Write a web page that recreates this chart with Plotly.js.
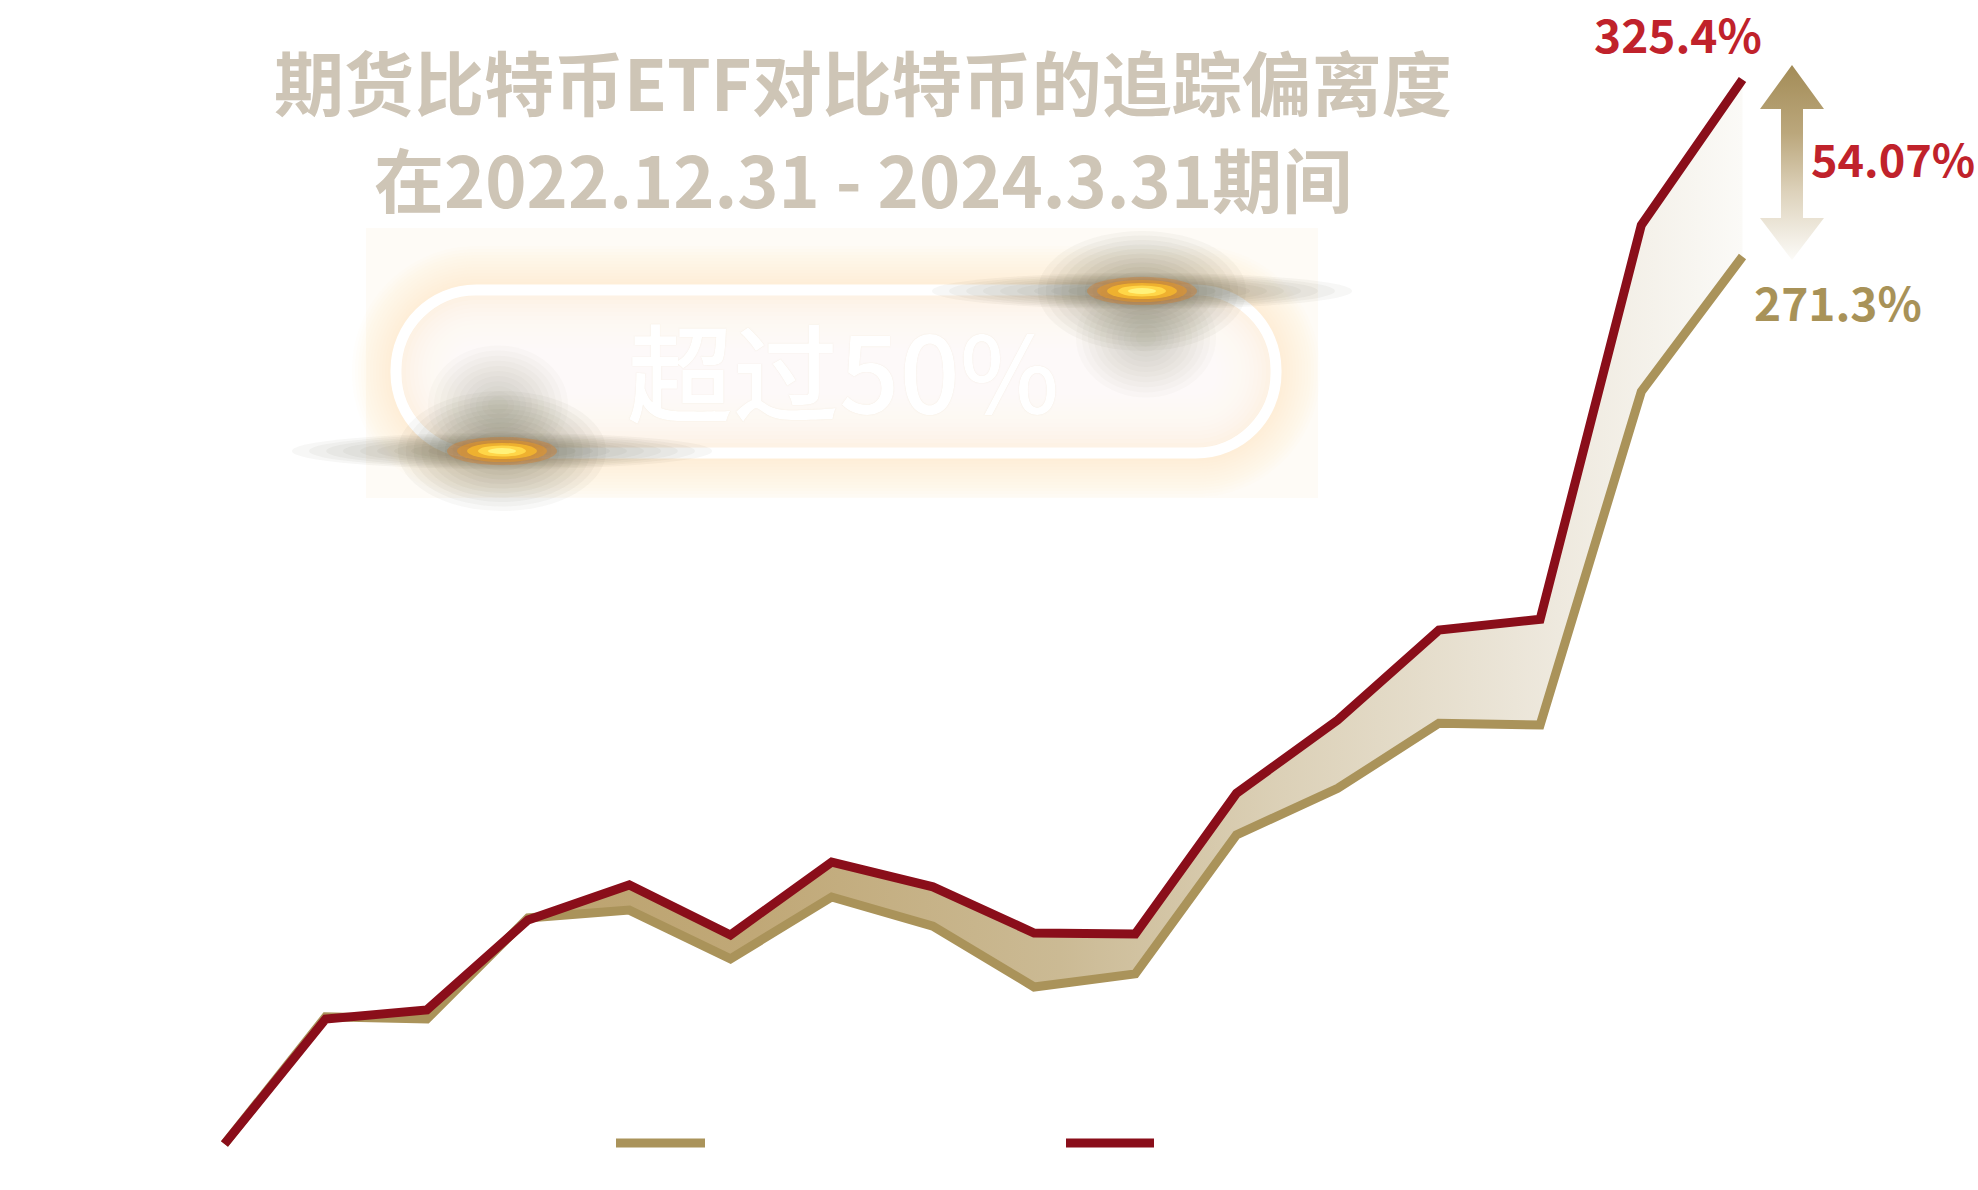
<!DOCTYPE html>
<html>
<head>
<meta charset="utf-8">
<script src="https://cdn.plot.ly/plotly-3.0.1.min.js"></script>
<style>html,body{margin:0;padding:0;background:#fff;}#chart{width:1978px;height:1190px;}</style>
</head>
<body>
<div id="chart"></div>
<script>
// ---- data ----
const months = ['2022-12','2023-01','2023-02','2023-03','2023-04','2023-05','2023-06','2023-07','2023-08','2023-09','2023-10','2023-11','2023-12','2024-01','2024-02','2024-03'];
const futuresEtf = [0, 38.9, 38.2, 69.1, 71.5, 56.6, 75.5, 66.6, 48.0, 52.0, 94.5, 108.7, 128.6, 128.1, 230.0, 271.3];
const bitcoin    = [0, 38.2, 41.0, 68.5, 79.2, 63.9, 86.2, 78.6, 64.5, 64.2, 107.2, 129.6, 157.1, 160.4, 280.9, 325.4];
const seriesNames = ['比特币期货ETF', '比特币'];
const titleLines = ['期货比特币ETF对比特币的追踪偏离度', '在2022.12.31 - 2024.3.31期间'];
const badgeText = '超过50%';
const endLabels = ['325.4%', '54.07%', '271.3%'];

const W = 1978, H = 1190;
const GOLD = '#aa935a', RED = '#8a0e1a', LABEL_RED = '#c0222b', TITLE = '#cec5b6';

// fill polygon between the two series
const polyX = months.concat(months.slice().reverse());
const polyY = futuresEtf.concat(bitcoin.slice().reverse());

const traces = [
  {x: polyX, y: polyY, type: 'scatter', mode: 'none', fill: 'toself', showlegend: false, hoverinfo: 'skip',
   fillgradient: {type: 'horizontal', colorscale: [[0, '#b79d66'], [0.35, '#c0a877'], [0.55, '#cbba94'], [0.7, '#dcd1b8'], [0.85, '#ebe5d8'], [1, '#fbfaf7']]}},
  {x: months, y: futuresEtf, name: seriesNames[0], type: 'scatter', mode: 'lines', line: {color: GOLD, width: 9}, showlegend: false},
  {x: months, y: bitcoin, name: seriesNames[1], type: 'scatter', mode: 'lines', line: {color: RED, width: 9}, showlegend: false},
];

// ---- decorations in pixel space (x2 / y2) ----
function pill(x0, y0, x1, y1, r) {
  const k = 0.5523 * r;
  return `M${x0+r},${y0} L${x1-r},${y0} C${x1-r+k},${y0} ${x1},${y0+r-k} ${x1},${y0+r} L${x1},${y1-r} C${x1},${y1-r+k} ${x1-r+k},${y1} ${x1-r},${y1} L${x0+r},${y1} C${x0+r-k},${y1} ${x0},${y1-r+k} ${x0},${y1-r} L${x0},${y0+r} C${x0},${y0+r-k} ${x0+r-k},${y0} ${x0+r},${y0} Z`;
}
const P = {x0: 396, y0: 290, x1: 1276, y1: 453, r: 80};
function inset(d, op, col) {
  return {type: 'path', xref: 'x2', yref: 'y2', layer: 'below', line: {width: 0},
    fillcolor: col, opacity: op, path: pill(P.x0 - d, P.y0 - d, P.x1 + d, P.y1 + d, Math.max(10, P.r + d))};
}
const shapes = [
  {type: 'rect', xref: 'x2', yref: 'y2', x0: 366, x1: 1318, y0: 228, y1: 498, layer: 'below', line: {width: 0}, fillcolor: 'rgba(254,248,240,0.6)'},
];
for (let d = 44; d >= 2; d -= 3) shapes.push(inset(d, 0.05, '#fbe6cc'));
shapes.push(inset(0, 1, '#fdf1e2'));
for (let d = -6; d >= -66; d -= 4) shapes.push(inset(d, 0.13, '#ffffff'));
shapes.push({type: 'path', xref: 'x2', yref: 'y2', layer: 'below', line: {color: '#ffffff', width: 11}, fillcolor: 'rgba(0,0,0,0)', path: pill(P.x0, P.y0, P.x1, P.y1, P.r)});
// legend swatches
shapes.push({type: 'line', xref: 'x2', yref: 'y2', x0: 616, x1: 705, y0: 1143, y1: 1143, line: {color: GOLD, width: 9}});
shapes.push({type: 'line', xref: 'x2', yref: 'y2', x0: 1066, x1: 1154, y0: 1143, y1: 1143, line: {color: RED, width: 9}});

// sparkles: soft haze built from many faint ellipses
function ell(cx, cy, w, h, col, op, layer) {
  return {type: 'circle', xref: 'x2', yref: 'y2', layer: layer || 'above', line: {width: 0}, fillcolor: col, opacity: op,
    x0: cx - w / 2, x1: cx + w / 2, y0: cy - h / 2, y1: cy + h / 2};
}
const sparkles = [{x: 502, y: 451, bx: 498, by: 405}, {x: 1142, y: 291, bx: 1146, by: 338}];
sparkles.forEach(s => {
  for (let r = 70; r >= 10; r -= 6) shapes.push(ell(s.bx, s.by, 2 * r, 2 * r * 0.85, '#7a746e', 0.03));
  for (let r = 80; r >= 10; r -= 6) shapes.push(ell(s.x, s.y, 2 * r * 1.3, 2 * r * 0.75, '#4e443a', 0.04));
  for (let i = 0; i < 10; i++) {
    const w = 420 - i * 34, h = 36 - i * 2.6;
    shapes.push(ell(s.x, s.y, w, h, '#4a4036', 0.045));
  }
  [[110, 28, 0.35, '#e0781a'], [90, 22, 0.5, '#ee9a22'], [70, 16, 0.8, '#f8b92c'], [48, 11, 0.95, '#ffd84a'], [28, 6, 1, '#fff27a']].forEach(([w, h, o, c]) => {
    shapes.push(ell(s.x, s.y, w, h, c, o));
  });
});

// gradient double arrow
const ax = 1792;
traces.push({
  x: [ax, ax + 32, ax + 11, ax + 11, ax + 32, ax, ax - 32, ax - 11, ax - 11, ax - 32, ax],
  y: [65, 109, 109, 218, 218, 260, 218, 218, 109, 109, 65],
  xaxis: 'x2', yaxis: 'y2', type: 'scatter', mode: 'none', fill: 'toself', showlegend: false, hoverinfo: 'skip',
  fillgradient: {type: 'vertical', start: 65, stop: 260, colorscale: [[0, '#a38c57'], [0.35, '#bba77c'], [0.65, '#ddd2bb'], [1, '#fcfbf8']]}
});

const annotations = [
  {text: titleLines[0], x: 863, y: 80, font: {family: 'Noto Sans CJK SC', size: 70, color: TITLE, weight: 700}},
  {text: titleLines[1], x: 863, y: 177, font: {family: 'Noto Sans CJK SC', size: 70, color: TITLE, weight: 700}},
  {text: badgeText, x: 843, y: 368, font: {family: 'Noto Sans CJK SC', size: 106, color: '#ffffff', weight: 500, shadow: '0 0 1px rgba(225,205,175,0.55)'}},
  {text: endLabels[0], x: 1678, y: 33, font: {family: 'Noto Sans CJK SC', size: 46, color: LABEL_RED, weight: 700}},
  {text: endLabels[1], x: 1893, y: 157, font: {family: 'Noto Sans CJK SC', size: 45, color: LABEL_RED, weight: 700}},
  {text: endLabels[2], x: 1838, y: 301, font: {family: 'Noto Sans CJK SC', size: 46, color: '#a89258', weight: 700}},
].map(a => Object.assign({xref: 'x2', yref: 'y2', showarrow: false, xanchor: 'center', yanchor: 'middle'}, a));

const layout = {
  width: W, height: H,
  margin: {l: 0, r: 0, t: 0, b: 0, pad: 0},
  paper_bgcolor: '#ffffff', plot_bgcolor: '#ffffff',
  showlegend: false,
  xaxis: {type: 'category', range: [-2.218, 17.327], visible: false, showgrid: false, zeroline: false, fixedrange: true},
  yaxis: {range: [-14.06, 349.7], visible: false, showgrid: false, zeroline: false, fixedrange: true},
  xaxis2: {range: [0, W], overlaying: 'x', anchor: 'y2', visible: false, showgrid: false, zeroline: false},
  yaxis2: {range: [H, 0], overlaying: 'y', anchor: 'x2', visible: false, showgrid: false, zeroline: false},
  shapes: shapes,
  annotations: annotations,
};

Plotly.newPlot('chart', traces, layout, {staticPlot: true, displayModeBar: false});
</script>
</body>
</html>
